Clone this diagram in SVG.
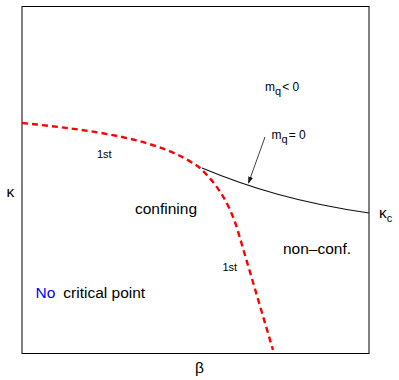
<svg xmlns="http://www.w3.org/2000/svg" width="399" height="380" viewBox="0 0 399 380">
<defs>
<style>
text{font-family:"Liberation Sans",Arial,sans-serif;fill:#000}
.lbl{font-size:15.5px}
.sm{font-size:11px}
.mq{font-size:12px}
.red{fill:none;stroke:#ff0000;stroke-width:2.4;stroke-dasharray:6 4}
.blk{fill:none;stroke:#111;stroke-width:1.2}
</style>
<marker id="ah" viewBox="0 0 10 10" refX="9" refY="5" markerWidth="7" markerHeight="7" markerUnits="userSpaceOnUse" orient="auto">
<path d="M0,1.5 L10,5 L0,8.5 Z" fill="#111"/>
</marker>
</defs>
<rect width="399" height="380" fill="#fff"/>
<g id="frame">
<rect x="22" y="6.5" width="347" height="347" fill="none" stroke="#000" stroke-width="1"/>
</g>
<g id="connectors">
<path class="red" d="M22,123 C90,130 160,138 200,168 C215,182 228,200 237,228 L273,350"/>
<path class="blk" d="M202,168 C250,188 300,203 369,213"/>
<path fill="none" stroke="#111" stroke-width="0.8" d="M265,137 L248.5,183" marker-end="url(#ah)"/>
</g>
<g id="labels">
<text class="mq" x="265" y="91">m<tspan font-size="11" dy="4">q</tspan><tspan dy="-4" dx="1">&lt; 0</tspan></text>
<text class="mq" x="271.5" y="138.5">m<tspan font-size="11" dy="4">q</tspan><tspan dy="-4" dx="1">= 0</tspan></text>
<text class="sm" x="97" y="158">1st</text>
<text class="sm" x="222.5" y="271">1st</text>
<text class="lbl" x="135" y="214">confining</text>
<text class="lbl" x="283" y="254">non–conf.</text>
<text class="lbl" x="35.5" y="298"><tspan fill="#0000ff">No</tspan><tspan dx="8">critical point</tspan></text>
<text class="lbl" x="6.5" y="197">κ</text>
<text class="lbl" x="379" y="218">κ<tspan font-size="11" dy="4">c</tspan></text>
<text class="lbl" x="195" y="373">β</text>
</g>
</svg>
